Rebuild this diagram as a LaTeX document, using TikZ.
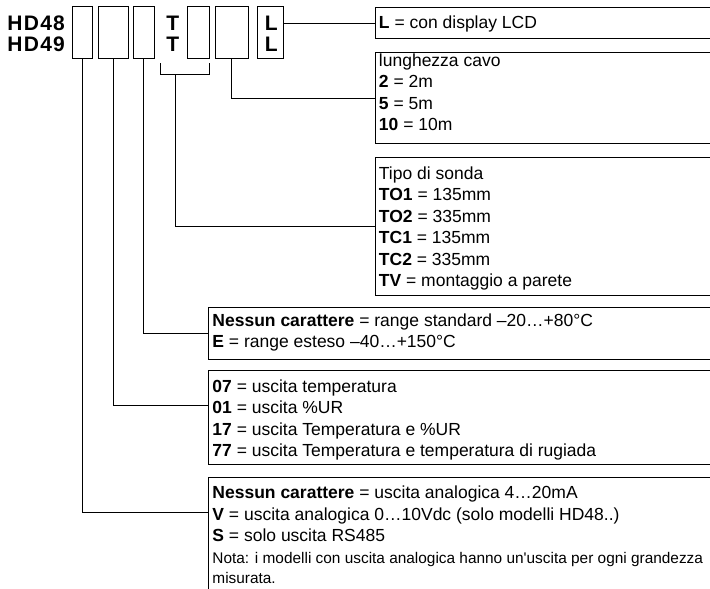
\documentclass[tikz,border=0pt]{standalone}
\usepackage{fontspec}
\setmainfont{Liberation Sans}
\begin{document}
\begin{tikzpicture}[x=1pt,y=-1pt,line width=0.9pt,
  sq/.style={draw,inner sep=0pt,minimum height=52pt},
  frame/.style={inner sep=0pt,anchor=north west,minimum width=345pt},
  txt/.style={anchor=base west,inner sep=0pt,align=left,font=\fontsize{17.5}{21.5}\selectfont},
  note/.style={anchor=base west,inner sep=0pt,align=left,font=\fontsize{15.4}{20}\selectfont},
  code/.style={anchor=base west,inner sep=0pt,align=left,font=\fontsize{21}{20.5}\selectfont\bfseries\addfontfeature{LetterSpace=6}}]
\useasboundingbox (0,0) rectangle (710,589);
% code line (base anchor = last line)
\node[code] (hd) at (7,51) {HD48\\HD49};
\node[sq,minimum width=20pt] (s1) at (82,32) {};
\node[sq,minimum width=30pt] (s2) at (113,32) {};
\node[sq,minimum width=21pt] (s3) at (143.5,32) {};
\node[code] (tt) at (166,51) {T\\T};
\node[sq,minimum width=22pt] (s4) at (198,32) {};
\node[sq,minimum width=33pt] (s5) at (231.5,32) {};
\node[sq,minimum width=26pt] (s6) at (270,32) {};
\node[code] (ll) at (264.5,51) {L\\L};
% bracket
\coordinate (k1) at (160,63);
\coordinate (k2) at (209,63);
\coordinate (km) at (175,74);
\draw (k1) |- (k2 |- km) -- (k2);
% frames
\node[frame,minimum height=31pt] (bL) at (375,7) {};
\node[frame,minimum height=91pt] (bU) at (375,52) {};
\node[frame,minimum height=138pt] (bT) at (375,157) {};
\node[frame,minimum height=52pt,minimum width=510pt] (bN) at (208,307) {};
\node[frame,minimum height=94pt,minimum width=510pt] (bO) at (208,370) {};
\node[frame,minimum height=130pt,minimum width=510pt] (bZ) at (208,477) {};
\foreach \b in {bL,bU,bT,bN,bO}
  \draw (\b.north east) -- (\b.north west) -- (\b.south west) -- (\b.south east);
\draw (bZ.north east) -- (bZ.north west) -- (bZ.south west);
% texts (positions are baselines of the last line)
\node[txt] (tL) at (378.5,28.5) {\textbf{L} = con display LCD};
\node[txt] (tU) at (378.5,130.5) {lunghezza cavo\\\textbf{2} = 2m\\\textbf{5} = 5m\\\textbf{10} = 10m};
\node[txt] (tT) at (378.5,286.5) {Tipo di sonda\\\textbf{TO1} = 135mm\\\textbf{TO2} = 335mm\\\textbf{TC1} = 135mm\\\textbf{TC2} = 335mm\\\textbf{TV} = montaggio a parete};
\node[txt] (tN) at (212,347.5) {\textbf{Nessun carattere} = range standard –20…+80°C\\\textbf{E} = range esteso –40…+150°C};
\node[txt] (tO) at (212,456.5) {\textbf{07} = uscita temperatura\\\textbf{01} = uscita \%UR\\\textbf{17} = uscita Temperatura e \%UR\\\textbf{77} = uscita Temperatura e temperatura di rugiada};
\node[txt] (tZ) at (212,541.5) {\textbf{Nessun carattere} = uscita analogica 4…20mA\\\textbf{V} = uscita analogica 0…10Vdc (solo modelli HD48..)\\\textbf{S} = solo uscita RS485};
\node[note] (tZn) at (212,583) {Nota: i modelli con uscita analogica hanno un\textquotesingle uscita per ogni grandezza\\misurata.};
% connectors
\coordinate (cO) at (208,405);
\coordinate (cZ) at (208,512);
\draw (s6.east |- bL.west) -- (bL.west);
\draw (s5.south) |- (bU.west);
\draw (km) |- (bT.west);
\draw (s3.south) |- (bN.west);
\draw (s2.south) |- (cO);
\draw (s1.south) |- (cZ);
\end{tikzpicture}
\end{document}
